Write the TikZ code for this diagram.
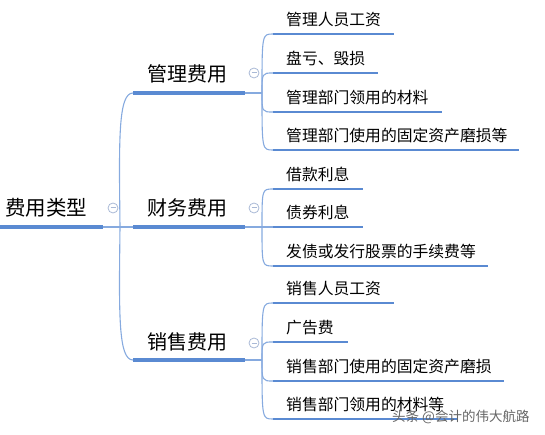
\documentclass[tikz,border=0pt]{standalone}
\usepackage{fontspec}
\setmainfont{Noto Sans CJK SC}
\definecolor{thick}{HTML}{5A8AD2}
\definecolor{thin}{HTML}{86AADF}
\definecolor{btn}{HTML}{A9B9D6}
\begin{document}
\begin{tikzpicture}[x=1pt,y=-1pt,
  bar0/.style={draw=thick,line width=3.8pt},
  bar1/.style={draw=thick,line width=3.6pt},
  bar2/.style={draw=thick,line width=2.8pt},
  link/.style={draw=thin,line width=1.1pt},
  big/.style={anchor=base west,inner sep=0pt,font=\fontsize{20}{21}\selectfont},
  small/.style={anchor=base west,inner sep=0pt,font=\fontsize{15.8}{16}\selectfont},
  button/.style={circle,draw=btn,fill=white,line width=0.8pt,minimum size=10pt,inner sep=0pt,
    path picture={\draw[btn,line width=1pt] ([xshift=-2.5pt]path picture bounding box.center) -- ([xshift=2.5pt]path picture bounding box.center);}},
  wm/.style={anchor=base west,inner sep=0pt,text=black!60,font=\fontsize{13.5}{14}\selectfont}
]
\useasboundingbox (0,0) rectangle (545,435);

% root
\node[big,font=\fontsize{20.5}{21}\selectfont] (root) at (5,215.5) {费用类型};
\coordinate (r0) at (0,227); \coordinate (r1) at (103,227); \coordinate (rj) at (120,227);
\draw[bar0] (r0) -- (r1);
\draw[link] (r1) -- (rj);
\node[button] (b0) at (113,208) {};

% level 1
\coordinate (g0) at (133,93);  \coordinate (g1) at (245,93);  \coordinate (gj) at (262,93);
\coordinate (c0) at (133,227); \coordinate (c1) at (245,227); \coordinate (cj) at (262,227);
\coordinate (s0) at (133,360); \coordinate (s1) at (245,360); \coordinate (sj) at (262,360);
\draw[link] (rj) .. controls (119,140) and (118,93) .. (g0);
\draw[link] (rj) -- (c0);
\draw[link] (rj) .. controls (119,313) and (118,360) .. (s0);
\draw[bar1] (g0) -- (g1); \draw[link] (g1) -- (gj);
\draw[bar1] (c0) -- (c1); \draw[link] (c1) -- (cj);
\draw[bar1] (s0) -- (s1); \draw[link] (s1) -- (sj);
\node[big] (guanli) at (147,81.5) {管理费用};
\node[big] (caiwu) at (147,215.5) {财务费用};
\node[big] (xiaoshou) at (147,349.5) {销售费用};
\node[button] (b1) at (254,73) {};
\node[button] (b2) at (254,208) {};
\node[button] (b3) at (254,343) {};

% level 2 : 管理
\foreach \y/\e/\t [count=\i] in {34/394/管理人员工资, 73/378/盘亏、毁损, 112/442/管理部门领用的材料, 150/519/管理部门使用的固定资产磨损等}{
  \coordinate (ga\i) at (273,\y); \coordinate (gb\i) at (\e,\y);
  \draw[link] (gj) .. controls (262,\y) .. (ga\i);
  \draw[bar2] (ga\i) -- (gb\i);
  \node[small] (gt\i) at (286,\y-8.5) {\t};
}
% level 2 : 财务
\foreach \y/\e/\t [count=\i] in {189/363/借款利息, 227/363/债券利息, 266/488/发债或发行股票的手续费等}{
  \coordinate (ca\i) at (273,\y); \coordinate (cb\i) at (\e,\y);
  \draw[link] (cj) .. controls (262,\y) .. (ca\i);
  \draw[bar2] (ca\i) -- (cb\i);
  \node[small] (ct\i) at (286,\y-8.5) {\t};
}
% level 2 : 销售
\foreach \y/\e/\t [count=\i] in {303/394/销售人员工资, 342/348/广告费, 381/504/销售部门使用的固定资产磨损, 419/458/销售部门领用的材料等}{
  \coordinate (sa\i) at (273,\y); \coordinate (sb\i) at (\e,\y);
  \draw[link] (sj) .. controls (262,\y) .. (sa\i);
  \draw[bar2] (sa\i) -- (sb\i);
  \node[small] (st\i) at (286,\y-8.5) {\t};
}

% watermark
\node[wm] (mark) at (392,421) {头条 @会计的伟大航路};
\end{tikzpicture}
\end{document}
